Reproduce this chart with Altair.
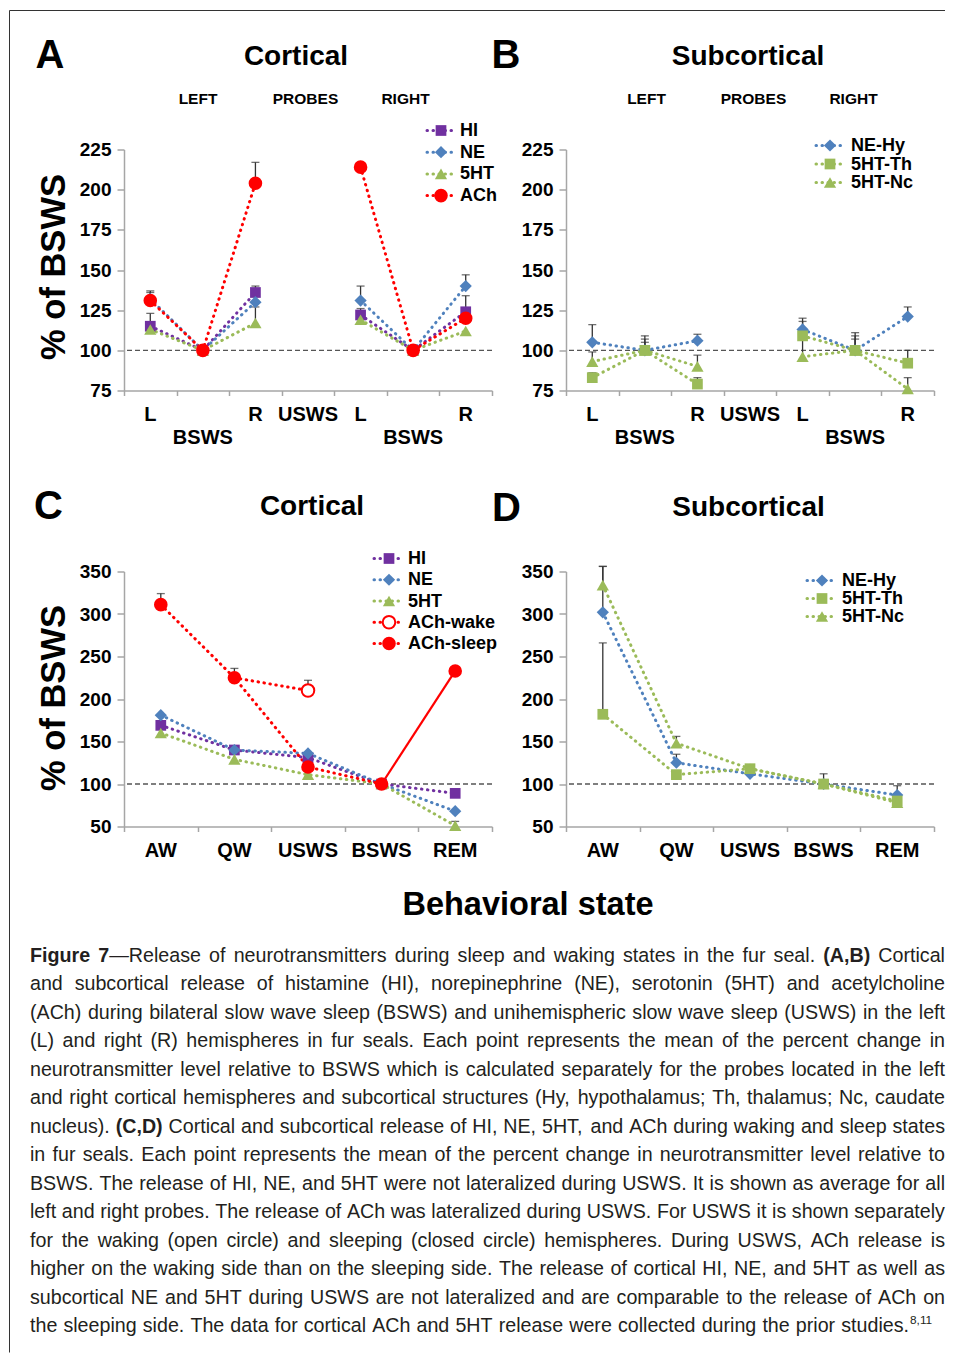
import altair as alt
import pandas as pd

FONT = "Liberation Sans"
CAPTION_FONT = "Liberation Sans"
AXIS_COLOR = "#a6a6a6"
ERR_COLOR = "#333333"
TEXT_COLOR = "#000000"
CAPTION_COLOR = "#231f20"

PURPLE, BLUE, GREEN, RED = "#7030A0", "#4F81BD", "#9BBB59", "#FF0000"

# ---------------- Panel A: cortical, left / right probes ----------------
A_CATS = ["L-left", "BSWS-left", "R-left", "USWS", "L-right", "BSWS-right", "R-right"]
A_TICK_TOP = ["L", "", "R", "USWS", "L", "", "R"]
A_TICK_BOTTOM = ["", "BSWS", "", "", "", "BSWS", ""]
A_GROUPS = ["left", "left", "left", "none", "right", "right", "right"]
A_HI = [115, 100, 136, None, 122, 100, 124]
A_HI_ERR = [123, None, 140, None, 126, None, 134]
A_NE = [132, 100, 130, None, 131, 100, 140]
A_NE_ERR = [137, None, None, None, 140, None, 147]
A_5HT = [113, 100, 117, None, 119, 100, 112]
A_5HT_ERR = [None, None, 127, None, None, None, None]
A_ACH = [131, 100, 204, None, 214, 100, 120]
A_ACH_ERR = [136, None, 217, None, None, None, None]

# ---------------- Panel B: subcortical, left / right probes ----------------
B_NE_HY = [105, 100, 106, None, 113, 100, 121]
B_NE_HY_ERR = [116, 109, 110, None, 120, 111, 127]
B_5HT_TH = [83, 100, 79, None, 109, 100, 92]
B_5HT_TH_ERR = [86, 107, 83, None, 118, 109, 100]
B_5HT_NC = [93, 100, 90, None, 96, 100, 76]
B_5HT_NC_ERR = [99, 105, 97, None, 107, 107, 83]

# ---------------- Panel C: cortical, behavioral states ----------------
C_CATS = ["AW", "QW", "USWS", "BSWS", "REM"]
C_HI = [169, 140, 131, 100, 89]
C_HI_ERR = [None, None, None, None, None]
C_NE = [181, 140, 136, 100, 68]
C_NE_ERR = [None, None, None, None, None]
C_5HT = [160, 129, 111, 100, 51]
C_5HT_ERR = [None, None, None, None, 56]
C_ACH_SLEEP = [311, 225, 120, 100, 233]
C_ACH_SLEEP_ERR = [324, 236, None, None, None]
C_ACH_WAKE = [None, None, 210, None, None]
C_ACH_WAKE_ERR = [None, None, 222, None, None]

# ---------------- Panel D: subcortical, behavioral states ----------------
D_NE_HY = [302, 125, 112, 100, 87]
D_NE_HY_ERR = [356, 135, None, None, 98]
D_5HT_TH = [182, 111, 118, 100, 80]
D_5HT_TH_ERR = [266, None, None, 112, None]
D_5HT_NC = [334, 148, 118, 100, 78]
D_5HT_NC_ERR = [356, 156, None, None, None]

AB_DOMAIN = [75, 225]
AB_TICKS = [75, 100, 125, 150, 175, 200, 225]
CD_DOMAIN = [50, 350]
CD_TICKS = [50, 100, 150, 200, 250, 300, 350]
BASELINE = [100]

PROBE_HEADS = ["LEFT", "PROBES", "RIGHT"]
Y_TITLE = "% of BSWS"
X_TITLE = "Behavioral state"

CAPTION = [
    "*Figure* *7*—Release of neurotransmitters during sleep and waking states in the fur seal. *(A,B)* Cortical",
    "and subcortical release of histamine (HI), norepinephrine (NE), serotonin (5HT) and acetylcholine",
    "(ACh) during bilateral slow wave sleep (BSWS) and unihemispheric slow wave sleep (USWS) in the left",
    "(L) and right (R) hemispheres in fur seals. Each point represents the mean of the percent change in",
    "neurotransmitter level relative to BSWS which is calculated separately for the probes located in the left",
    "and right cortical hemispheres and subcortical structures (Hy, hypothalamus; Th, thalamus; Nc, caudate",
    "nucleus). *(C,D)* Cortical and subcortical release of HI, NE, 5HT, and ACh during waking and sleep states",
    "in fur seals. Each point represents the mean of the percent change in neurotransmitter level relative to",
    "BSWS. The release of HI, NE, and 5HT were not lateralized during USWS. It is shown as average for all",
    "left and right probes. The release of ACh was lateralized during USWS. For USWS it is shown separately",
    "for the waking (open circle) and sleeping (closed circle) hemispheres. During USWS, ACh release is",
    "higher on the waking side than on the sleeping side. The release of cortical HI, NE, and 5HT as well as",
    "subcortical NE and 5HT during USWS are not lateralized and are comparable to the release of ACh on",
    "the sleeping side. The data for cortical ACh and 5HT release were collected during the prior studies.^8,11^",
]

# ---------------- layout constants ----------------
W = 368
H1 = 241
H2 = 255
ROW_GAP = 181
COL_GAP = 74
ONE = alt.Data(values=[{"k": 0}])

SIZES = {"square": 115, "diamond": 150, "triangle-up": 150, "circle": 185}


def make_xenc(cats):
    return alt.X(
        "cat:N", sort=None,
        scale=alt.Scale(domain=cats, paddingInner=0, paddingOuter=0),
        axis=alt.Axis(title=None, labels=False, grid=False, tickBand="extent",
                      tickSize=5, tickWidth=1.5, tickColor=AXIS_COLOR,
                      domainColor=AXIS_COLOR, domainWidth=1.5),
    )


def make_yenc(field, dom, vals):
    return alt.Y(
        f"{field}:Q",
        scale=alt.Scale(domain=dom, nice=False, zero=False),
        axis=alt.Axis(title=None, values=vals, grid=False, tickSize=7, tickWidth=1.5,
                      tickColor=AXIS_COLOR, domainColor=AXIS_COLOR, domainWidth=1.5,
                      labelFont=FONT, labelFontSize=19, labelFontWeight="bold",
                      labelColor=TEXT_COLOR, labelPadding=6, labelFlush=False,
                      labelOverlap=False),
    )


def rows_from(cats, vals, errs, groups=None):
    out = []
    for i, (c, v, e) in enumerate(zip(cats, vals, errs)):
        if v is None:
            continue
        out.append({"cat": c, "ord": i, "grp": groups[i] if groups else "all",
                    "val": v, "err": e})
    return out


def line_layer(rows, color, xe, ye, dotted=True):
    if dotted:
        mk = dict(color=color, strokeWidth=3, strokeDash=[0.5, 5.5], strokeCap="round")
    else:
        mk = dict(color=color, strokeWidth=2.2)
    return alt.Chart(pd.DataFrame(rows)).mark_line(**mk).encode(
        x=xe, y=ye, detail="grp:N", order="ord:Q")


def err_layers(rows, xe, dom, vals):
    er = [r for r in rows if r["err"] is not None]
    if not er:
        return []
    df = pd.DataFrame(er)
    bar = alt.Chart(df).mark_rule(color=ERR_COLOR, strokeWidth=1.3).encode(
        x=xe, y=make_yenc("val", dom, vals), y2="err:Q")
    cap = alt.Chart(df).mark_tick(color=ERR_COLOR, thickness=1.3, size=8).encode(
        x=xe, y=make_yenc("err", dom, vals))
    return [bar, cap]


def point_layer(rows, color, shape, xe, ye, filled=True):
    if filled:
        mk = dict(shape=shape, size=SIZES[shape], filled=True, color=color, opacity=1)
    else:
        mk = dict(shape=shape, size=SIZES[shape] * 0.85, filled=False, fill="white",
                  stroke=color, strokeWidth=2, opacity=1)
    return alt.Chart(pd.DataFrame(rows)).mark_point(**mk).encode(x=xe, y=ye)


def txt(s, x, y, size, weight="bold", align="center", angle=0, font=FONT,
        baseline="alphabetic", color=TEXT_COLOR):
    return alt.Chart(ONE).mark_text(
        text=s, font=font, fontSize=size, fontWeight=weight, align=align,
        baseline=baseline, angle=angle, color=color,
    ).encode(x=alt.value(x), y=alt.value(y))


def legend_layers(entries, x0, x1, mx, tx, y0, dy):
    out = []
    for i, (name, color, shape, filled) in enumerate(entries):
        y = y0 + dy * i
        out.append(alt.Chart(ONE).mark_rule(
            color=color, strokeWidth=3, strokeDash=[0.5, 5.5], strokeCap="round"
        ).encode(x=alt.value(x0), x2=alt.value(x1), y=alt.value(y)))
        if filled:
            mk = dict(shape=shape, size=SIZES[shape], filled=True, color=color, opacity=1)
        else:
            mk = dict(shape=shape, size=SIZES[shape] * 0.85, filled=False, fill="white",
                      stroke=color, strokeWidth=2, opacity=1)
        out.append(alt.Chart(ONE).mark_point(**mk).encode(x=alt.value(mx), y=alt.value(y)))
        out.append(txt(name, tx, y + 0.5, 18, align="left", baseline="middle"))
    return out


def xlabel_layers(cats, top, bottom, xe, h):
    d = {"cat": cats, "top": top}
    if bottom:
        d["bot"] = bottom
    df = pd.DataFrame(d)
    base = alt.Chart(df).mark_text(font=FONT, fontSize=20, fontWeight="bold",
                                   color=TEXT_COLOR, baseline="alphabetic")
    out = [base.encode(x=xe, y=alt.value(h + 30), text="top:N")]
    if bottom:
        out.append(base.encode(x=xe, y=alt.value(h + 53), text="bot:N"))
    return out


def baseline_layer(dom, vals):
    return alt.Chart(pd.DataFrame({"val": BASELINE})).mark_rule(
        color="#555555", strokeDash=[5, 3], strokeWidth=1.3
    ).encode(y=make_yenc("val", dom, vals))


def build_panel(cats, series, dom, vals, h, groups=None, extra_lines=None,
                extra_points=None, extra_errs=None):
    xe = make_xenc(cats)
    ye = make_yenc("val", dom, vals)
    errs, lines, pts = [], [], []
    for vals_s, errs_s, color, shape in series:
        rows = rows_from(cats, vals_s, errs_s, groups)
        errs += err_layers(rows, xe, dom, vals)
        lines.append(line_layer(rows, color, xe, ye))
        pts.append(point_layer(rows, color, shape, xe, ye))
    if extra_errs:
        for rows in extra_errs:
            errs += err_layers(rows, xe, dom, vals)
    if extra_lines:
        for rows, color, dotted in extra_lines:
            lines.append(line_layer(rows, color, xe, ye, dotted))
    if extra_points:
        for rows, color, shape, filled in extra_points:
            pts.append(point_layer(rows, color, shape, xe, ye, filled))
    return [baseline_layer(dom, vals)] + errs + lines + pts, xe


# ---------------- Panel A ----------------
a_layers, a_xe = build_panel(
    A_CATS,
    [(A_HI, A_HI_ERR, PURPLE, "square"), (A_NE, A_NE_ERR, BLUE, "diamond"),
     (A_5HT, A_5HT_ERR, GREEN, "triangle-up"), (A_ACH, A_ACH_ERR, RED, "circle")],
    AB_DOMAIN, AB_TICKS, H1, groups=A_GROUPS)
a_layers += xlabel_layers(A_CATS, A_TICK_TOP, A_TICK_BOTTOM, a_xe, H1)
a_layers += [
    txt("A", -74, -82, 40),
    txt("Cortical", 172, -85, 28),
    txt(PROBE_HEADS[0], 74, -46, 15.5),
    txt(PROBE_HEADS[1], 181.5, -46, 15.5),
    txt(PROBE_HEADS[2], 281.5, -46, 15.5),
    txt(Y_TITLE, -59, 117.5, 34.5, angle=270),
]
a_layers += legend_layers(
    [("HI", PURPLE, "square", True), ("NE", BLUE, "diamond", True),
     ("5HT", GREEN, "triangle-up", True), ("ACh", RED, "circle", True)],
    303, 329, 317, 336, -19, 21.7)
# figure frame (top and left edges)
a_layers += [
    alt.Chart(ONE).mark_rule(color="#333333", strokeWidth=1).encode(
        x=alt.value(-114.5), x2=alt.value(821), y=alt.value(-139)),
    alt.Chart(ONE).mark_rule(color="#333333", strokeWidth=1).encode(
        x=alt.value(-114.5), y=alt.value(-139), y2=alt.value(1203)),
]
panel_a = alt.layer(*a_layers).properties(width=W, height=H1)

# ---------------- Panel B ----------------
b_layers, b_xe = build_panel(
    A_CATS,
    [(B_NE_HY, B_NE_HY_ERR, BLUE, "diamond"), (B_5HT_TH, B_5HT_TH_ERR, GREEN, "square"),
     (B_5HT_NC, B_5HT_NC_ERR, GREEN, "triangle-up")],
    AB_DOMAIN, AB_TICKS, H1, groups=A_GROUPS)
b_layers += xlabel_layers(A_CATS, A_TICK_TOP, A_TICK_BOTTOM, b_xe, H1)
b_layers += [
    txt("B", -60, -82, 40),
    txt("Subcortical", 182, -85, 28),
    txt(PROBE_HEADS[0], 80.5, -46, 15.5),
    txt(PROBE_HEADS[1], 187.5, -46, 15.5),
    txt(PROBE_HEADS[2], 287.5, -46, 15.5),
]
b_layers += legend_layers(
    [("NE-Hy", BLUE, "diamond", True), ("5HT-Th", GREEN, "square", True),
     ("5HT-Nc", GREEN, "triangle-up", True)],
    250, 276, 264, 285, -4, 18.5)
panel_b = alt.layer(*b_layers).properties(width=W, height=H1)

# ---------------- Panel C ----------------
ach_rows = rows_from(C_CATS, C_ACH_SLEEP, C_ACH_SLEEP_ERR)
i_bsws = C_CATS.index("BSWS")
i_usws = C_CATS.index("USWS")
ach_sleep_seg = [r for r in ach_rows if r["ord"] <= i_bsws]
ach_rem_seg = [r for r in ach_rows if r["ord"] >= i_bsws]
wake_rows = rows_from(C_CATS, C_ACH_WAKE, C_ACH_WAKE_ERR)
ach_wake_seg = [r for r in ach_rows if r["ord"] == i_usws - 1] + wake_rows

c_layers, c_xe = build_panel(
    C_CATS,
    [(C_HI, C_HI_ERR, PURPLE, "square"), (C_NE, C_NE_ERR, BLUE, "diamond"),
     (C_5HT, C_5HT_ERR, GREEN, "triangle-up")],
    CD_DOMAIN, CD_TICKS, H2,
    extra_errs=[ach_rows, wake_rows],
    extra_lines=[(ach_sleep_seg, RED, True), (ach_wake_seg, RED, True),
                 (ach_rem_seg, RED, False)],
    extra_points=[(ach_rows, RED, "circle", True), (wake_rows, RED, "circle", False)])
c_layers += xlabel_layers(C_CATS, C_CATS, None, c_xe, H2)
c_layers += [
    txt("C", -75.5, -53, 40),
    txt("Cortical", 188, -57, 28),
    txt(Y_TITLE, -59, 126.5, 34.5, angle=270),
]
c_layers += legend_layers(
    [("HI", PURPLE, "square", True), ("NE", BLUE, "diamond", True),
     ("5HT", GREEN, "triangle-up", True), ("ACh-wake", RED, "circle", False),
     ("ACh-sleep", RED, "circle", True)],
    250, 276, 265, 284, -13, 21.25)
panel_c = alt.layer(*c_layers).properties(width=W, height=H2)

# ---------------- Panel D ----------------
d_layers, d_xe = build_panel(
    C_CATS,
    [(D_NE_HY, D_NE_HY_ERR, BLUE, "diamond"), (D_5HT_TH, D_5HT_TH_ERR, GREEN, "square"),
     (D_5HT_NC, D_5HT_NC_ERR, GREEN, "triangle-up")],
    CD_DOMAIN, CD_TICKS, H2)
d_layers += xlabel_layers(C_CATS, C_CATS, None, d_xe, H2)
d_layers += [
    txt("D", -59.5, -51, 40),
    txt("Subcortical", 182.5, -56, 28),
]
d_layers += legend_layers(
    [("NE-Hy", BLUE, "diamond", True), ("5HT-Th", GREEN, "square", True),
     ("5HT-Nc", GREEN, "triangle-up", True)],
    241, 267, 256, 276, 9, 18)
panel_d = alt.layer(*d_layers).properties(width=W, height=H2)

# ---------------- caption (justified word layout, Arial-metric font) ----------------
HELV = {}
for chars, widths in [
    (" !\"#$%&'()*+,-./", [278, 278, 355, 556, 556, 889, 667, 191, 333, 333, 389, 584, 278, 333, 278, 278]),
    ("0123456789:;", [556] * 10 + [278, 278]),
    ("ABCDEFGHIJKLMNOPQRSTUVWXYZ", [667, 667, 722, 722, 667, 611, 778, 722, 278, 500, 667, 556, 833,
                                    722, 778, 667, 778, 722, 667, 611, 722, 667, 944, 667, 667, 611]),
    ("abcdefghijklmnopqrstuvwxyz", [556, 556, 500, 556, 556, 278, 556, 556, 222, 222, 500, 222, 833,
                                    556, 556, 556, 556, 333, 500, 278, 556, 500, 722, 500, 500, 500]),
]:
    HELV.update(dict(zip(chars, widths)))
HELV["—"] = 1000
HELV_BOLD = dict(HELV)
HELV_BOLD.update({"F": 611, "i": 278, "g": 611, "u": 611, "r": 389, "e": 556, "7": 556,
                  "(": 333, ")": 333, ",": 278, "A": 722, "B": 722, "C": 722, "D": 722})
WIDTH_K = 1.0


def parse_word(word):
    pieces, cur, style = [], "", "r"
    for ch in word:
        if ch in "*^":
            if cur:
                pieces.append((cur, style))
            cur = ""
            flip = "b" if ch == "*" else "s"
            style = "r" if style == flip else flip
        else:
            cur += ch
    if cur:
        pieces.append((cur, style))
    return pieces


def units(s, style):
    tbl = HELV_BOLD if style == "b" else HELV
    return sum(tbl.get(ch, 556) for ch in s)


CAP_LEFT = 30
CAP_RIGHT = 945
CAP_LAST_RIGHT = 932
parsed = [[parse_word(w) for w in line.split(" ")] for line in CAPTION]

# font size so that the tightest justified line has normal word spacing
fs_candidates = []
for words in parsed[:-1]:
    u = sum(units(t, s) for w in words for t, s in w if s != "s") + 278 * (len(words) - 1)
    fs_candidates.append((CAP_RIGHT - CAP_LEFT) / (u * WIDTH_K / 1000))
CAP_FS = round(min(fs_candidates) - 0.05, 2)
SUP_FS = round(CAP_FS * 0.6, 2)

E_X0 = 124
E_Y0 = 149 + H1 + ROW_GAP + H2 + ROW_GAP
cap_rows = []
for li, words in enumerate(parsed):
    def pw(t, s):
        return units(t, s) * WIDTH_K / 1000 * (SUP_FS if s == "s" else CAP_FS)
    widths = [sum(pw(t, s) for t, s in w) for w in words]
    right = CAP_LAST_RIGHT if li == len(parsed) - 1 else CAP_RIGHT
    gap = (right - CAP_LEFT - sum(widths)) / (len(words) - 1)
    x = CAP_LEFT
    base_y = 961 + 28.5 * li
    for w, wd in zip(words, widths):
        px = x
        for t, s in w:
            cap_rows.append({"x": px - E_X0 + (1 if s == "s" else 0),
                             "y": base_y - E_Y0 - (CAP_FS * 0.4 if s == "s" else 0),
                             "t": t, "s": s})
            px += pw(t, s)
        x += wd + gap

cap_df = pd.DataFrame(cap_rows)
cap_layers = []
for style, weight, size in [("r", "normal", CAP_FS), ("b", "bold", CAP_FS), ("s", "normal", SUP_FS)]:
    sub = cap_df[cap_df["s"] == style]
    if len(sub) == 0:
        continue
    cap_layers.append(alt.Chart(sub).mark_text(
        font=CAPTION_FONT, fontSize=size, fontWeight=weight, align="left",
        baseline="alphabetic", color=CAPTION_COLOR,
    ).encode(x=alt.X("x:Q", scale=None, axis=None), y=alt.Y("y:Q", scale=None, axis=None),
             text="t:N"))

panel_e = alt.layer(
    txt(X_TITLE, 528 - E_X0, 914 - E_Y0, 32.5),
    *cap_layers,
).properties(width=W, height=10)

chart = alt.concat(
    panel_a, panel_b, panel_c, panel_d, panel_e,
    columns=2, spacing={"row": ROW_GAP, "column": COL_GAP}, bounds="flush",
).properties(
    padding={"left": 1, "top": 1.5, "right": 0, "bottom": 0},
).configure_view(stroke=None)

chart.save("out.html", embed_options={"renderer": "svg", "actions": False})
